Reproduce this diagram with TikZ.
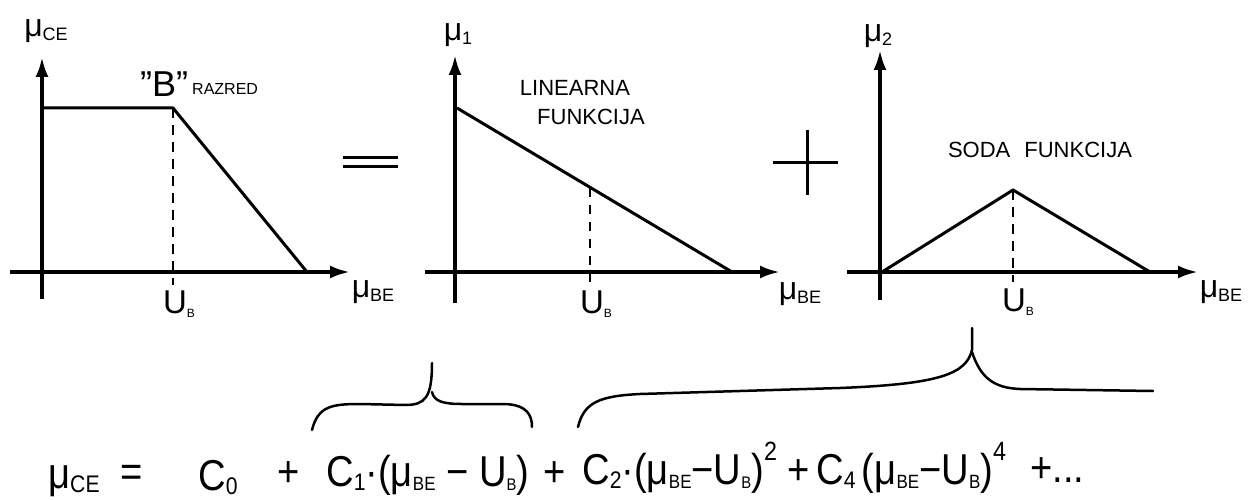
\documentclass[tikz,border=0pt]{standalone}
\usepackage{fontspec}
\setmainfont{Liberation Sans}
\usetikzlibrary{positioning,arrows.meta}
\newcommand{\lsub}[2]{\raisebox{-4pt}{\fontsize{#1}{#1}\selectfont #2}}
\newcommand{\lsup}[2]{\raisebox{20pt}{\fontsize{#1}{#1}\selectfont #2}}
\tikzset{
  axisline/.style={line width=3.5pt, -{Latex[length=20pt,width=13pt]}},
  crossline/.style={line width=3.5pt},
  funcline/.style={line width=3pt, line join=round},
  guideline/.style={line width=2.5pt, dash pattern=on 10pt off 7pt},
  signline/.style={line width=3pt},
  bracecurve/.style={line width=2.5pt, line cap=round},
  axlabel/.style={font=\fontsize{32}{34}\selectfont, inner sep=0pt},
  ublabel/.style={font=\fontsize{33}{35}\selectfont, inner sep=0pt},
  caplabel/.style={font=\fontsize{22}{24}\selectfont, inner sep=0pt},
  eqterm/.style={font=\fontsize{36}{40}\selectfont, inner sep=0pt, anchor=base west,
    xscale=1.06, yscale=1.2, transform shape}
}

\begin{document}
\begin{tikzpicture}[x=1pt, y=-1pt]
  \useasboundingbox (0,0) rectangle (1253,500);

  % graph 1: class B characteristic
  \coordinate (a1l) at (10,272);
  \coordinate (a1r) at (350,272);
  \coordinate (a1b) at (42,299);
  \coordinate (a1t) at (42,57);
  \coordinate (k1) at (42,108);
  \coordinate (k2) at (173,108);
  \coordinate (k3) at (307,272);
  \coordinate (g1) at (173,285);
  \draw[axisline] (a1l) -- (a1r);
  \draw[axisline] (a1b) -- (a1t);
  \draw[funcline] (k1) -- (k2) -- (k3);
  \draw[guideline] (k2) -- (g1);
  \node[axlabel] (yl1) at (46,31) {μ\lsub{18}{CE}};
  \node[axlabel] (xl1) at (373,292) {μ\lsub{18}{BE}};
  \node[ublabel] (ub1) at (179,304) {U\lsub{12}{B}};
  \node[font=\fontsize{36}{36}\selectfont, inner sep=0pt, anchor=base west] (bq) at (140,97) {"B"};
  \node[font=\fontsize{16}{16}\selectfont, inner sep=0pt, anchor=base west] (razred) at (192,95) {RAZRED};

  % equals sign
  \coordinate (e1) at (343,158);
  \coordinate (e2) at (398,158);
  \coordinate (e3) at (343,167);
  \coordinate (e4) at (398,167);
  \draw[signline] (e1) -- (e2);
  \draw[signline] (e3) -- (e4);

  % graph 2: linear part
  \coordinate (a2l) at (425,272);
  \coordinate (a2r) at (780,272);
  \coordinate (a2b) at (455,303);
  \coordinate (a2t) at (455,55);
  \coordinate (m1) at (457,108);
  \coordinate (m2) at (732,272);
  \coordinate (m3) at (590,188);
  \coordinate (g2) at (590,282);
  \draw[axisline] (a2l) -- (a2r);
  \draw[axisline] (a2b) -- (a2t);
  \draw[funcline] (m1) -- (m2);
  \draw[guideline, line width=2pt, dash pattern=on 9pt off 8pt] (m3) -- (g2);
  \node[axlabel] (yl2) at (458,35) {μ\lsub{18}{1}};
  \node[axlabel] (xl2) at (800,294) {μ\lsub{18}{BE}};
  \node[ublabel] (ub2) at (596,304) {U\lsub{12}{B}};
  \node[caplabel] (lin) at (575,88) {LINEARNA};
  \node[caplabel] (fun1) at (591,117) {FUNKCIJA};

  % plus sign
  \coordinate (p1) at (773,163);
  \coordinate (p2) at (838,163);
  \coordinate (p3) at (807,130);
  \coordinate (p4) at (807,195);
  \draw[signline] (p1) -- (p2);
  \draw[signline] (p3) -- (p4);

  % graph 3: even part
  \coordinate (a3l) at (847,272);
  \coordinate (a3r) at (1198,272);
  \coordinate (a3b) at (880,300);
  \coordinate (a3t) at (880,50);
  \coordinate (n1) at (882,272);
  \coordinate (n2) at (1013,190);
  \coordinate (n3) at (1150,272);
  \coordinate (g3) at (1013,282);
  \draw[axisline] (a3l) -- (a3r);
  \draw[axisline] (a3b) -- (a3t);
  \draw[funcline] (n1) -- (n2) -- (n3);
  \draw[guideline] (n2) -- (g3);
  \node[axlabel] (yl3) at (878,36) {μ\lsub{18}{2}};
  \node[axlabel] (xl3) at (1221,292) {μ\lsub{18}{BE}};
  \node[ublabel] (ub3) at (1018,302) {U\lsub{12}{B}};
  \node[caplabel] (soda) at (1040,150) {SODA\hspace{14pt}FUNKCIJA};

  % braces
  \draw[bracecurve] (312,430) .. controls (318,406) and (332,404) .. (360,404)
    -- (405,405) .. controls (425,405) and (432,398) .. (432,363);
  \draw[bracecurve] (432,392) .. controls (434,402) and (445,404) .. (462,404)
    -- (505,404) .. controls (527,405) and (532,415) .. (532,427);
  \draw[bracecurve] (578,427) .. controls (584,402) and (600,396) .. (640,394)
    -- (840,388) .. controls (940,384) and (966,374) .. (972,350) -- (972,328);
  \draw[bracecurve] (972,352) .. controls (980,376) and (992,388) .. (1020,389)
    -- (1153,391);

  % equation
  \node[eqterm] (eqmu) at (48,488) {μ\lsub{20}{CE}};
  \node[eqterm] (eqeq) at (120,486) {=};
  \node[eqterm] (eqc0) at (198,490) {C\lsub{20}{0}};
  \node[eqterm] (eqp1) at (277,486) {+};
  \node[eqterm] (eqt1) at (326,486) {C\lsub{20}{1}·(μ\lsub{16}{BE} − U\lsub{14}{B})};
  \node[eqterm] (eqp2) at (543,486) {+};
  \node[eqterm] (eqt2) at (582,484) {C\lsub{20}{2}·(μ\lsub{16}{BE}−U\lsub{14}{B})\lsup{22}{2}};
  \node[eqterm] (eqp3) at (787,484) {+};
  \node[eqterm] (eqt3) at (816,484) {C\lsub{20}{4}\,(μ\lsub{16}{BE}−U\lsub{16}{B})\lsup{22}{4}};
  \node[eqterm] (eqp4) at (1030,482) {+...};
\end{tikzpicture}
\end{document}
